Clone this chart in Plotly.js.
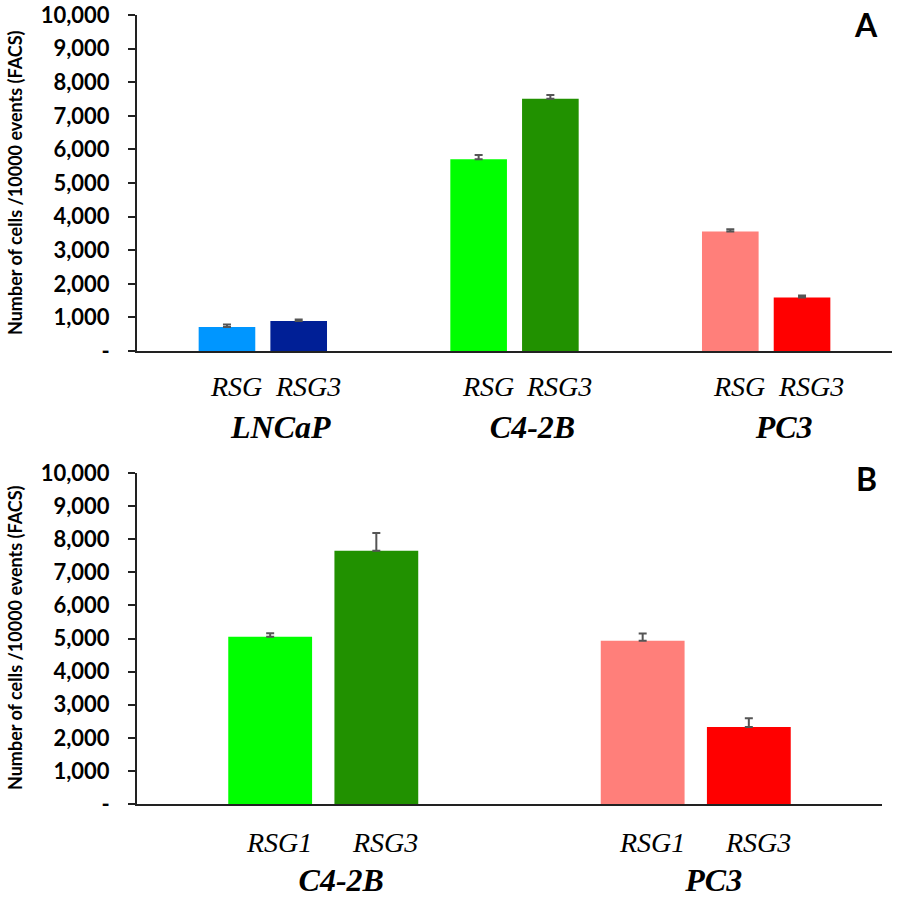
<!DOCTYPE html>
<html>
<head>
<meta charset="utf-8">
<script src="https://cdn.plot.ly/plotly-3.0.1.min.js"></script>
<style>
  html, body { margin: 0; padding: 0; background: #fff; }
  #chart { width: 900px; height: 902px; }
</style>
</head>
<body>
<div id="chart"></div>
<script>
// Panel A data
const groupsA = ['LNCaP', 'C4-2B', 'PC3'];
const seriesA = ['RSG', 'RSG3'];
const rsgA = [715, 5710, 3560];
const rsg3A = [890, 7510, 1590];
const rsgErrA = [70, 120, 60];
const rsg3ErrA = [50, 110, 60];

// Panel B data
const groupsB = ['C4-2B', 'PC3'];
const seriesB = ['RSG1', 'RSG3'];
const rsgB = [5050, 4930];
const rsg3B = [7650, 2330];
const rsgErrB = [110, 220];
const rsg3ErrB = [535, 260];

// y axis ticks
const yTicks = [0, 1000, 2000, 3000, 4000, 5000, 6000, 7000, 8000, 9000, 10000];
const yTitle = 'Number of cells /10000 events (FACS)';

// colors per group
const rsgColorsA = ['#0096ff', '#00ff00', '#ff7f7a'];
const rsg3ColorsA = ['#001f96', '#219100', '#ff0000'];
const rsgColorsB = ['#00ff00', '#ff7f7a'];
const rsg3ColorsB = ['#219100', '#ff0000'];

const W = 900, H = 902;
const barWidth = 0.225;
const offsetFirst = -0.255;
const offsetSecond = 0.03;

const sansFont = 'Lato, "Open Sans", sans-serif';
const serifFont = '"Liberation Serif", "DejaVu Serif", serif';

function py(p) { return 1 - p / H; }

function errBars(plus) {
    return {
        type: 'data', symmetric: false,
        array: plus, arrayminus: plus.map(() => 0),
        color: '#555555', thickness: 2, width: 4
    };
}

function barTrace(groups, vals, errs, colors, offset, xa, ya) {
    return {
        type: 'bar',
        x: groups, y: vals,
        xaxis: xa, yaxis: ya,
        width: barWidth, offset: offset,
        marker: { color: colors, line: { width: 0 } },
        error_y: errBars(errs),
        hoverinfo: 'x+y',
        showlegend: false
    };
}

const data = [
    barTrace(groupsA, rsgA, rsgErrA, rsgColorsA, offsetFirst, 'x', 'y'),
    barTrace(groupsA, rsg3A, rsg3ErrA, rsg3ColorsA, offsetSecond, 'x', 'y'),
    barTrace(groupsB, rsgB, rsgErrB, rsgColorsB, offsetFirst, 'x2', 'y2'),
    barTrace(groupsB, rsg3B, rsg3ErrB, rsg3ColorsB, offsetSecond, 'x2', 'y2')
];

function yAxis(domain) {
    return {
        domain: domain,
        range: [0, 10000],
        tickvals: yTicks,
        ticktext: yTicks.map(v => v === 0 ? '-' : v.toLocaleString('en-US')),
        ticks: 'outside', ticklen: 7, tickwidth: 2, tickcolor: '#222',
        ticklabelstandoff: 14,
        tickfont: { family: sansFont, size: 22, color: '#000', weight: 'bold' },
        showline: true, linecolor: '#222', linewidth: 2,
        showgrid: false, zeroline: false, fixedrange: true
    };
}

function xAxis(domain, anchor) {
    return {
        domain: domain, anchor: anchor,
        type: 'category',
        range: [-0.5, anchor === 'y' ? 2.5 : 1.5],
        showline: true, linecolor: '#222', linewidth: 2,
        ticks: '', showgrid: false, zeroline: false,
        ticklabelstandoff: 47, ticklabelshift: 18,
        tickfont: { family: serifFont, size: 32, color: '#000', weight: 'bold', style: 'italic' },
        fixedrange: true
    };
}

const annotations = [];

// sub labels under each bar
function addSubLabels(groups, series, xref, pyCenter) {
    groups.forEach((g, i) => {
        [offsetFirst, offsetSecond].forEach((off, k) => {
            annotations.push({
                xref: xref, yref: 'paper',
                x: i + off + barWidth / 2, y: py(pyCenter),
                xshift: 9,
                text: series[k], showarrow: false,
                xanchor: 'center', yanchor: 'middle',
                font: { family: serifFont, size: 28, color: '#000', style: 'italic' }
            });
        });
    });
}
addSubLabels(groupsA, seriesA, 'x', 386);
addSubLabels(groupsB, seriesB, 'x2', 842);

// y titles
[183, 638].forEach(c => {
    annotations.push({
        xref: 'paper', yref: 'paper', x: 0, y: py(c),
        xshift: -122, textangle: -90,
        text: yTitle, showarrow: false,
        xanchor: 'center', yanchor: 'middle',
        font: { family: sansFont, size: 18, color: '#000', weight: 'bold' }
    });
});

// panel letters
[[25, 'A'], [478, 'B']].forEach(([p, t]) => {
    annotations.push({
        xref: 'paper', yref: 'paper', x: 1, y: py(p),
        xshift: -26,
        text: t, showarrow: false,
        xanchor: 'center', yanchor: 'middle',
        font: { family: sansFont, size: 32, color: '#000', weight: 'bold' }
    });
});

const plotW = W - 137 - 8;

const layout = {
    width: W, height: H,
    margin: { l: 137, r: 8, t: 0, b: 0 },
    paper_bgcolor: '#fff', plot_bgcolor: '#fff',
    barmode: 'group',
    xaxis: xAxis([0, 1], 'y'),
    yaxis: yAxis([py(351), py(15)]),
    xaxis2: xAxis([0, 745 / plotW], 'y2'),
    yaxis2: yAxis([py(804), py(473)]),
    annotations: annotations
};
layout.yaxis2.anchor = 'x2';

Plotly.newPlot('chart', data, layout, { staticPlot: true, displayModeBar: false });
</script>
</body>
</html>
